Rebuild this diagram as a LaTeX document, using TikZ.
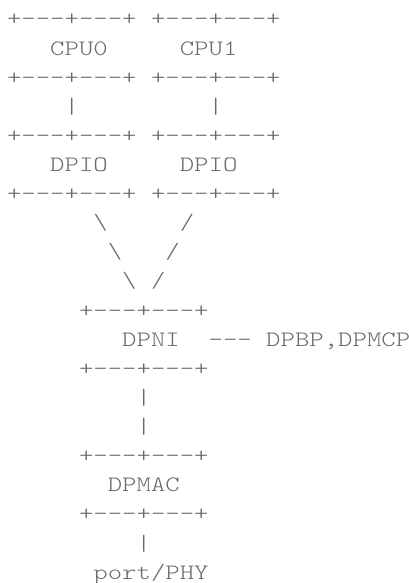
\documentclass[tikz,border=0pt]{standalone}
\usepackage{fontspec}
\setmonofont{lmmonolt10-regular}[Extension=.otf,FakeStretch=1.247]
\definecolor{asciigray}{RGB}{105,105,105}
\tikzstyle{glyphs}=[anchor=base west,inner sep=0pt,outer sep=0pt,text=asciigray,font=\ttfamily\fontsize{22pt}{29pt}\selectfont]
\begin{document}
\begin{tikzpicture}[x=14.4pt,y=-29.12pt]
	\useasboundingbox (0pt,0pt) rectangle (409pt,-583pt);
	\begin{scope}[shift={(7pt,-25.9pt)}]
		\node [style=glyphs] (cpu0top) at (0, 0) {+---+---+};
		\node [style=glyphs] (cpu1top) at (10, 0) {+---+---+};
		\node [style=glyphs] (cpu0) at (3, 1) {CPU0};
		\node [style=glyphs] (cpu1) at (12, 1) {CPU1};
		\node [style=glyphs] (cpu0bot) at (0, 2) {+---+---+};
		\node [style=glyphs] (cpu1bot) at (10, 2) {+---+---+};
		\node [style=glyphs] (link0) at (4, 3) {|};
		\node [style=glyphs] (link1) at (14, 3) {|};
		\node [style=glyphs] (dpio0top) at (0, 4) {+---+---+};
		\node [style=glyphs] (dpio1top) at (10, 4) {+---+---+};
		\node [style=glyphs] (dpio0) at (3, 5) {DPIO};
		\node [style=glyphs] (dpio1) at (12, 5) {DPIO};
		\node [style=glyphs] (dpio0bot) at (0, 6) {+---+---+};
		\node [style=glyphs] (dpio1bot) at (10, 6) {+---+---+};
		\node [style=glyphs] (left0) at (6, 7) {\textbackslash};
		\node [style=glyphs] (right0) at (12, 7) {/};
		\node [style=glyphs] (left1) at (7, 8) {\textbackslash};
		\node [style=glyphs] (right1) at (11, 8) {/};
		\node [style=glyphs] (left2) at (8, 9) {\textbackslash};
		\node [style=glyphs] (right2) at (10, 9) {/};
		\node [style=glyphs] (dpnitop) at (5, 10) {+---+---+};
		\node [style=glyphs] (dpni) at (8, 11) {DPNI};
		\node [style=glyphs] (side) at (14, 11) {---};
		\node [style=glyphs] (dpbp) at (18, 11) {DPBP,DPMCP};
		\node [style=glyphs] (dpnibot) at (5, 12) {+---+---+};
		\node [style=glyphs] (link2) at (9, 13) {|};
		\node [style=glyphs] (link3) at (9, 14) {|};
		\node [style=glyphs] (dpmactop) at (5, 15) {+---+---+};
		\node [style=glyphs] (dpmac) at (7, 16) {DPMAC};
		\node [style=glyphs] (dpmacbot) at (5, 17) {+---+---+};
		\node [style=glyphs] (link4) at (9, 18) {|};
		\node [style=glyphs] (phy) at (6, 19) {port/PHY};
	\end{scope}
\end{tikzpicture}
\end{document}
